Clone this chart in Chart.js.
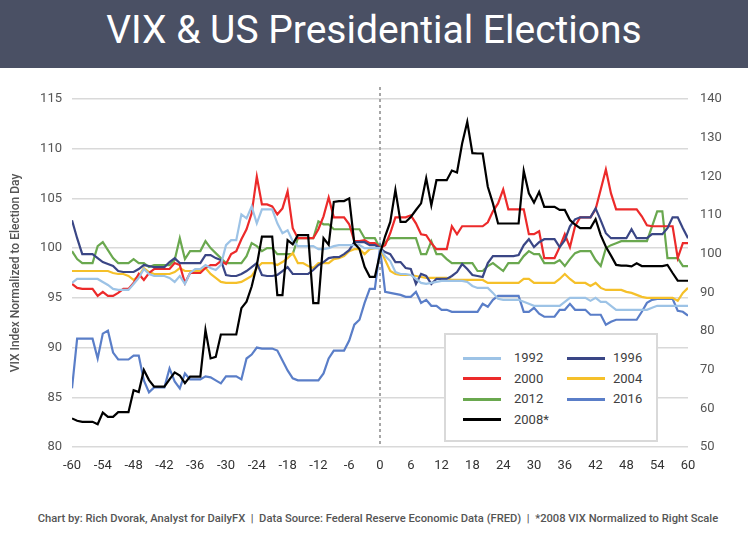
<!DOCTYPE html>
<html lang="en">
<head>
<meta charset="UTF-8" />
<title>VIX &amp; US Presidential Elections</title>
<style>
  body { margin: 0; width: 748px; height: 547px; background: #fff; position: relative; overflow: hidden;
         font-family: Roboto, "Noto Sans", sans-serif; }
  .banner { position: absolute; left: 0; top: 0; width: 748px; height: 68px; background: #4a5064;
            color: #fff; font-size: 39px; line-height: 60px; text-align: center; }
  #chartBox { position: absolute; left: 0; top: 68px; }
  .legend { position: absolute; left: 444px; top: 333px; width: 210px; height: 105px;
            border: 2px solid #d9d9d9; background: #fff; }
  .legend .swatch { position: absolute; width: 38px; height: 3px; }
  .legend .label { position: absolute; font-size: 13px; color: #404040; line-height: 16px; }
  .footer { position: absolute; left: 0; top: 512px; width: 756px; text-align: center; white-space: pre;
            font-size: 11.2px; font-weight: 500; color: #555; }
</style>
</head>
<body>
<div class="banner">VIX &amp; US Presidential Elections</div>
<div id="chartBox"><canvas id="chart" width="748" height="430"></canvas></div>
<div class="legend" id="legend"></div>
<div class="footer">Chart by: Rich Dvorak, Analyst for DailyFX  |  Data Source: Federal Reserve Economic Data (FRED)  |  *2008 VIX Normalized to Right Scale</div>

<script src="https://cdn.jsdelivr.net/npm/chart.js@4.4.1/dist/chart.umd.min.js"></script>
<script>
// trading days relative to election day
const days = Array.from({ length: 121 }, (_, i) => i - 60);

// VIX normalized to 100 on election day, one value per day from -60 to +60
const vix1992 = [
  96.5, 96.9, 96.9, 96.9, 96.9, 96.9, 96.6, 96.3, 95.9, 95.8,
  95.8, 95.8, 96.4, 97.0, 97.9, 97.4, 97.2, 97.2, 97.2, 97.0,
  96.6, 97.2, 96.4, 97.5, 97.9, 97.9, 98.3, 98.0, 97.8, 98.3,
  100.3, 100.8, 100.8, 103.4, 103.0, 104.2, 102.5, 103.9, 103.9, 103.9,
  102.5, 101.5, 101.8, 100.7, 100.2, 100.2, 100.2, 100.2, 99.9, 99.9,
  100.0, 100.2, 100.3, 100.3, 100.3, 100.3, 100.3, 100.0, 100.0, 100.0,
  100.0, 99.2, 98.7, 97.6, 97.4, 97.4, 97.3, 96.9, 96.5, 96.4,
  96.5, 96.6, 96.7, 96.7, 96.7, 96.7, 96.7, 96.6, 96.2, 96.0,
  96.0, 96.0, 95.5, 94.9, 94.8, 94.8, 94.8, 94.8, 94.6, 94.4,
  94.2, 94.2, 94.2, 94.2, 94.2, 94.2, 94.6, 95.0, 95.0, 95.0,
  95.0, 94.7, 95.0, 94.6, 94.6, 94.2, 93.8, 93.8, 93.8, 93.8,
  93.8, 93.8, 93.8, 94.0, 94.2, 94.2, 94.2, 94.2, 94.2, 94.2, 94.2
];
const vix1996 = [
  102.8, 101.0, 99.4, 99.4, 99.4, 99.0, 98.6, 98.4, 98.2, 97.7,
  97.6, 97.6, 97.6, 97.9, 98.3, 98.2, 98.1, 98.1, 98.1, 98.6,
  99.0, 98.5, 98.5, 98.5, 98.5, 98.5, 99.3, 99.3, 99.0, 98.8,
  97.3, 97.2, 97.2, 97.4, 97.7, 98.1, 98.5, 97.3, 97.2, 97.2,
  97.3, 97.7, 98.1, 97.4, 97.4, 97.4, 97.4, 97.8, 98.3, 98.6,
  99.0, 99.1, 99.1, 99.4, 99.8, 100.6, 100.6, 100.6, 100.3, 100.3,
  100.0, 99.6, 99.4, 98.6, 98.6, 98.0, 97.9, 96.4, 97.4, 97.2,
  96.4, 96.9, 96.9, 96.9, 97.2, 97.6, 98.4, 97.9, 97.3, 97.2,
  97.1, 98.5, 99.2, 99.2, 99.2, 99.2, 99.2, 99.3, 100.3, 100.9,
  100.1, 100.6, 100.9, 100.9, 100.9, 100.1, 100.8, 102.2, 102.9, 103.1,
  103.1, 103.1, 104.0, 102.8, 101.5, 101.0, 101.0, 101.0, 101.0, 101.9,
  101.0, 101.0, 101.0, 101.4, 101.4, 101.4, 102.0, 103.1, 103.1, 102.0, 101.0
];
const vix2000 = [
  96.4, 96.0, 95.9, 95.9, 95.9, 95.2, 95.6, 95.2, 95.2, 95.5,
  95.9, 95.9, 96.5, 97.4, 96.8, 97.5, 97.9, 97.9, 97.9, 97.9,
  98.5, 98.3, 96.5, 97.5, 97.5, 97.5, 98.0, 98.3, 98.3, 98.7,
  98.4, 99.4, 99.7, 100.9, 101.9, 103.5, 107.2, 104.4, 104.4, 104.2,
  103.4, 104.0, 105.7, 102.0, 101.0, 101.0, 101.0, 101.0, 101.9, 103.2,
  105.1, 103.1, 103.1, 103.1, 102.4, 100.7, 100.7, 100.8, 100.5, 100.5,
  100.0, 100.3, 101.5, 103.1, 103.1, 103.1, 103.3, 102.5, 101.4, 101.3,
  100.5, 99.9, 99.9, 99.9, 102.2, 101.4, 102.2, 102.2, 102.2, 102.2,
  102.2, 102.6, 103.7, 104.5, 105.9, 103.9, 103.9, 103.9, 103.9, 101.4,
  101.4, 101.7, 99.0, 99.0, 99.0, 100.1, 101.4, 100.1, 102.2, 103.1,
  103.1, 103.1, 103.9, 105.9, 107.9, 105.5, 103.9, 103.9, 103.9, 103.9,
  103.9, 103.2, 102.3, 102.2, 102.2, 102.2, 102.2, 102.2, 99.0, 100.5, 100.5
];
const vix2004 = [
  97.7, 97.7, 97.7, 97.7, 97.7, 97.7, 97.7, 97.7, 97.5, 97.4,
  97.4, 97.2, 96.8, 97.2, 98.0, 97.6, 97.4, 97.4, 97.4, 97.4,
  97.6, 98.0, 97.7, 97.7, 97.7, 97.7, 98.0, 97.4, 97.0, 96.6,
  96.5, 96.5, 96.5, 96.6, 96.9, 97.2, 98.0, 98.5, 98.5, 98.5,
  98.3, 98.6, 99.0, 99.5, 98.5, 98.5, 98.2, 98.0, 98.5, 98.5,
  98.5, 98.9, 99.0, 99.2, 99.7, 99.9, 99.9, 99.4, 99.9, 100.0,
  100.0, 98.8, 97.7, 97.4, 97.3, 97.3, 97.3, 97.2, 97.1, 97.0,
  97.0, 97.0, 97.0, 97.0, 96.8, 96.8, 96.8, 96.8, 96.8, 96.8,
  96.8, 96.5, 96.5, 96.5, 96.5, 96.5, 96.5, 96.5, 96.9, 96.9,
  96.5, 96.5, 96.5, 96.5, 96.5, 96.9, 97.4, 96.9, 96.5, 96.5,
  96.5, 96.2, 96.5, 96.0, 95.8, 95.8, 95.8, 95.8, 95.6, 95.5,
  95.3, 95.1, 95.0, 95.0, 95.0, 95.0, 95.0, 95.0, 94.7, 95.5, 96.0
];
const vix2012 = [
  99.7, 98.9, 98.5, 98.5, 98.5, 100.2, 100.6, 99.8, 99.0, 98.5,
  98.5, 98.5, 98.9, 98.5, 98.5, 98.1, 98.3, 98.3, 98.3, 98.3,
  98.8, 101.0, 98.9, 99.7, 99.7, 99.7, 100.7, 100.0, 99.5, 99.0,
  98.5, 98.5, 98.5, 98.5, 99.2, 100.5, 100.2, 99.7, 100.0, 100.0,
  99.4, 99.4, 99.4, 99.4, 101.0, 101.0, 101.0, 101.0, 102.7, 102.4,
  102.4, 101.9, 101.9, 101.9, 101.9, 101.9, 101.9, 101.0, 101.0, 101.0,
  100.0, 100.6, 101.0, 101.0, 101.0, 101.0, 101.0, 101.0, 99.4, 99.4,
  100.7, 99.4, 99.4, 98.9, 98.5, 98.5, 98.5, 98.5, 98.5, 97.7,
  97.7, 98.2, 98.5, 98.1, 97.7, 98.5, 98.5, 98.5, 99.2, 99.7,
  99.4, 99.4, 98.5, 98.5, 98.5, 98.8, 98.2, 98.9, 99.5, 99.7,
  99.7, 99.7, 98.8, 98.2, 100.0, 100.3, 100.5, 100.7, 100.7, 100.7,
  100.7, 100.7, 100.7, 102.2, 103.7, 103.7, 99.0, 99.0, 99.0, 98.2, 98.2
];
const vix2016 = [
  85.9, 90.9, 90.9, 90.9, 90.9, 88.9, 91.4, 91.7, 89.5, 88.8,
  88.8, 88.8, 89.2, 89.2, 86.7, 85.5, 86.0, 86.0, 86.0, 87.9,
  86.6, 85.9, 87.4, 86.8, 86.8, 86.8, 87.1, 87.0, 86.7, 86.4,
  87.1, 87.1, 87.1, 86.8, 88.9, 89.3, 90.0, 89.9, 89.9, 89.9,
  89.7, 88.7, 87.7, 86.9, 86.7, 86.7, 86.7, 86.7, 86.7, 87.4,
  88.9, 89.7, 89.7, 89.7, 90.7, 92.3, 92.8, 94.5, 95.9, 95.9,
  100.0, 95.6, 95.5, 95.4, 95.3, 95.1, 95.1, 95.6, 94.5, 94.8,
  94.2, 94.2, 93.8, 93.8, 93.6, 93.6, 93.6, 93.6, 93.6, 93.6,
  94.4, 94.1, 94.8, 95.2, 95.2, 95.2, 95.2, 95.2, 93.6, 93.6,
  94.0, 93.4, 93.1, 93.1, 93.1, 93.8, 93.8, 94.4, 93.8, 93.8,
  93.8, 93.3, 93.3, 93.3, 92.3, 92.6, 92.8, 92.8, 92.8, 92.8,
  92.8, 93.6, 94.5, 94.8, 94.9, 94.9, 94.9, 94.9, 93.7, 93.6, 93.2
];
// 2008 is plotted on the right scale
const vix2008 = [
  57.4, 56.8, 56.5, 56.5, 56.5, 55.9, 58.9, 57.8, 57.8, 59.0,
  59.0, 59.0, 64.7, 64.2, 69.9, 67.3, 65.6, 65.6, 65.6, 67.5,
  69.3, 68.5, 66.5, 68.2, 68.2, 68.2, 80.3, 72.9, 73.3, 79.1,
  79.1, 79.1, 79.1, 85.9, 87.6, 91.5, 97.0, 104.4, 104.4, 104.4,
  89.3, 89.3, 103.5, 102.4, 104.8, 104.8, 104.8, 87.2, 87.2, 104.0,
  102.3, 113.4, 113.6, 113.6, 114.3, 102.7, 101.2, 96.6, 94.0, 94.0,
  100.0, 104.5, 108.2, 116.5, 108.2, 108.2, 109.5, 111.3, 113.0, 119.5,
  112.5, 119.0, 119.0, 119.0, 121.5, 121.0, 128.5, 134.1, 126.0, 125.9,
  125.9, 117.3, 113.0, 107.8, 107.8, 107.8, 107.8, 107.8, 121.4, 115.6,
  113.2, 116.0, 112.1, 112.1, 112.1, 111.3, 111.3, 108.7, 107.5, 106.6,
  106.6, 106.6, 108.9, 104.8, 101.8, 99.5, 97.1, 96.9, 96.9, 96.7,
  97.5, 96.8, 96.8, 96.8, 96.8, 96.8, 97.1, 95.0, 93.0, 93.0, 93.0
];

const series = [
  { label: "1992", values: vix1992, color: "#9dc3e6", axis: "y" },
  { label: "1996", values: vix1996, color: "#3a4685", axis: "y" },
  { label: "2000", values: vix2000, color: "#ec2a2a", axis: "y" },
  { label: "2004", values: vix2004, color: "#f5c02a", axis: "y" },
  { label: "2012", values: vix2012, color: "#6aa84f", axis: "y" },
  { label: "2016", values: vix2016, color: "#5a7ec8", axis: "y" },
  { label: "2008*", values: vix2008, color: "#000000", axis: "y1" }
];

const fontFamily = "Roboto, 'Noto Sans', sans-serif";

// dotted line marking election day
const electionLine = {
  id: "electionLine",
  beforeDatasetsDraw(chart) {
    const { ctx, chartArea, scales } = chart;
    const x = scales.x.getPixelForValue(0);
    ctx.save();
    ctx.strokeStyle = "#a6a6a6";
    ctx.lineWidth = 2;
    ctx.setLineDash([3, 3]);
    ctx.beginPath();
    ctx.moveTo(x, chartArea.top - 12);
    ctx.lineTo(x, chartArea.bottom);
    ctx.stroke();
    ctx.restore();
  }
};

const chart = new Chart(document.getElementById("chart"), {
  type: "line",
  data: {
    datasets: series.map((s) => ({
      label: s.label,
      data: days.map((d, i) => ({ x: d, y: s.values[i] })),
      borderColor: s.color,
      backgroundColor: s.color,
      yAxisID: s.axis,
      order: s.axis === "y1" ? 0 : 1
    }))
  },
  options: {
    responsive: false,
    animation: false,
    layout: { padding: { top: 31, left: 0, right: 0, bottom: 0 } },
    elements: {
      point: { radius: 0 },
      line: { borderWidth: 2.2, tension: 0 }
    },
    plugins: { legend: { display: false }, tooltip: { enabled: false } },
    scales: {
      x: {
        type: "linear",
        min: -60,
        max: 60,
        ticks: { stepSize: 6, color: "#333", padding: 11, maxRotation: 0, font: { size: 13, family: fontFamily } },
        grid: { display: false, drawTicks: false },
        border: { display: false },
        afterFit: (s) => { s.height = 51; }
      },
      y: {
        position: "left",
        min: 80,
        max: 115,
        ticks: { stepSize: 5, color: "#555", padding: 10, font: { size: 13, family: fontFamily } },
        grid: { color: "#d9d9d9", lineWidth: 1.5, drawTicks: false },
        border: { display: false },
        title: {
          display: true,
          text: "VIX Index Normalized to Election Day",
          color: "#555",
          font: { size: 12, weight: "500", family: fontFamily },
          padding: { top: 9, bottom: 0 }
        },
        afterFit: (s) => { s.width = 72; }
      },
      y1: {
        position: "right",
        min: 50,
        max: 140,
        ticks: { stepSize: 10, color: "#555", padding: 12, font: { size: 13, family: fontFamily } },
        grid: { drawOnChartArea: false, drawTicks: false },
        border: { display: false },
        afterFit: (s) => { s.width = 60; }
      }
    }
  },
  plugins: [electionLine]
});

// two-column legend box, built from the chart's datasets
const legend = document.getElementById("legend");
chart.data.datasets.forEach((ds, i) => {
  const col = i % 2;
  const row = Math.floor(i / 2);
  const cy = 23 + row * 20.5;
  const sw = document.createElement("div");
  sw.className = "swatch";
  sw.style.left = (17 + col * 104) + "px";
  sw.style.top = (cy - 1.5) + "px";
  sw.style.background = ds.borderColor;
  legend.appendChild(sw);
  const lb = document.createElement("div");
  lb.className = "label";
  lb.style.left = (68 + col * 99) + "px";
  lb.style.top = (cy - 8) + "px";
  lb.textContent = ds.label;
  legend.appendChild(lb);
});
</script>
</body>
</html>
